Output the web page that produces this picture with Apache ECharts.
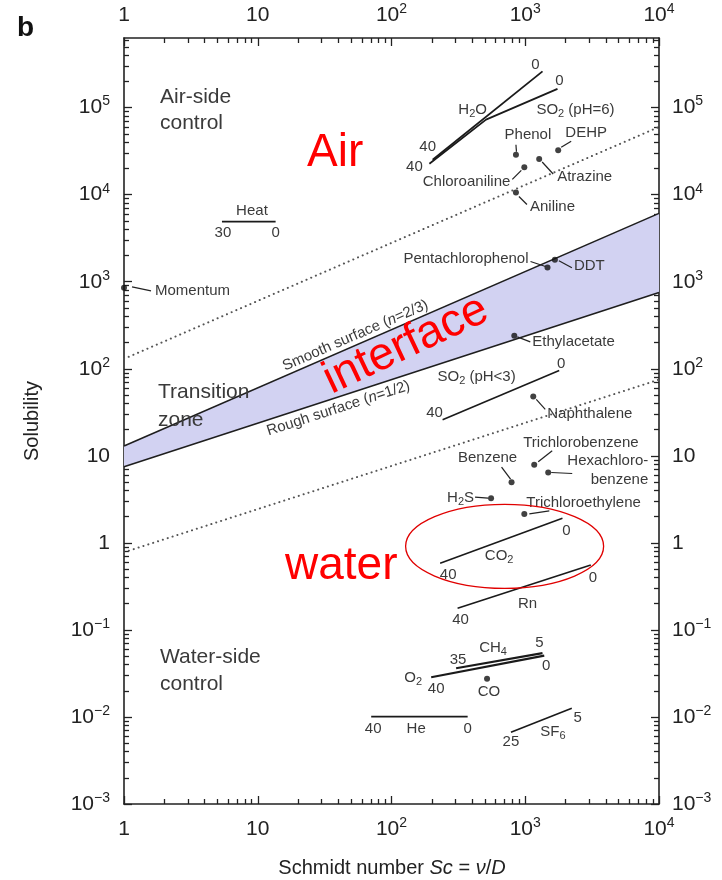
<!DOCTYPE html>
<html><head><meta charset="utf-8">
<script src="https://cdn.jsdelivr.net/npm/echarts@6/dist/echarts.min.js"></script>
<style>html,body{margin:0;padding:0;background:#fff}#c{width:722px;height:880px}</style>
</head><body><div id="c"></div>
<script>
// ---------------- data ----------------
const xTickValues = [1, 10, 100, 1000, 10000];
const yTickValues = [0.001, 0.01, 0.1, 1, 10, 100, 1000, 10000, 100000];
const yMax = 630957;

// band edges and dotted guide lines (Sc, solubility)
const smoothSc = [1, 10000];
const smoothSol = [13, 6100];
const roughSc = [1, 10000];
const roughSol = [7.5, 750];
const upperDotSc = [1, 10000];
const upperDotSol = [130, 60000];
const lowerDotSc = [1, 10000];
const lowerDotSol = [0.78, 75];

// temperature lines
const lineNames = ['Heat', 'H2O', 'SO2 (pH=6)', 'SO2 (pH<3)', 'CO2', 'Rn', 'O2', 'CH4', 'He', 'SF6'];
const lineSc = [[5.4, 13.6], [203, 1346], [192, 509, 1742], [241, 1794], [231, 1897], [312, 3091], [198, 1387], [304, 1346], [70.5, 371], [782, 2228]];
const lineSol = [[4900, 4900], [25200, 261000], [22700, 72800, 164000], [25.9, 95.5], [0.585, 1.92], [0.177, 0.558], [0.0286, 0.0507], [0.0363, 0.054], [0.0101, 0.0101], [0.00667, 0.0126]];
const lineWidths = [1.6, 1.8, 1.8, 1.6, 1.6, 1.6, 2.2, 2.2, 1.6, 1.6];

// compounds (dots)
const compoundNames = ['Momentum', 'Phenol', 'DEHP', 'Chloroaniline', 'Atrazine', 'Aniline', 'Pentachlorophenol', 'DDT', 'Ethylacetate', 'Naphthalene', 'Trichlorobenzene', 'Hexachlorobenzene', 'Benzene', 'H2S', 'Trichloroethylene', 'CO'];
const compoundSc = [1, 852, 1763, 984, 1271, 852, 1467, 1666, 828, 1148, 1167, 1485, 790, 555, 984, 518];
const compoundSol = [850, 28800, 32300, 20600, 25700, 10600, 1459, 1790, 239, 48.1, 7.88, 6.43, 4.98, 3.26, 2.15, 0.0274];

// ---------------- layout (label offsets in px) ----------------
const compoundLabels = [
  {t: 'Momentum', dx: 31, dy: 3, al: 'left', ld: [8, -1, 27, 3]},
  {t: 'Phenol', dx: 12, dy: -20, al: 'center', ld: [0, -10, 0.5, -3]},
  {t: 'DEHP', dx: 28, dy: -17, al: 'center', ld: [3, -3, 13, -9]},
  {t: 'Chloroaniline', dx: -14, dy: 14, al: 'right', ld: [-3, 3, -12, 12]},
  {t: 'Atrazine', dx: 18, dy: 18, al: 'left', ld: [3, 3, 14, 15]},
  {t: 'Aniline', dx: 14, dy: 14, al: 'left', ld: [3, 4, 11, 12]},
  {t: 'Pentachlorophenol', dx: -19, dy: -9, al: 'right', ld: [-17, -6, -2, -1]},
  {t: 'DDT', dx: 19, dy: 6, al: 'left', ld: [4, 1, 17, 8]},
  {t: 'Ethylacetate', dx: 18, dy: 6, al: 'left', ld: [3, 1, 16, 6]},
  {t: 'Naphthalene', dx: 14, dy: 17, al: 'left', ld: [3, 3, 12, 13]},
  {t: 'Trichlorobenzene', dx: -11, dy: -22, al: 'left', ld: [4, -3, 18, -14]},
  {t: 'Hexachloro-\nbenzene', dx: 100, dy: -2, al: 'right', ld: [3, 0, 24, 1]},
  {t: 'Benzene', dx: -24, dy: -24, al: 'center', ld: [-10, -15, -1, -3]},
  {t: 'H{s|2}S', dx: -17, dy: 0, al: 'right', ld: [-16, -1, -3, 0]},
  {t: 'Trichloroethylene', dx: 2, dy: -11, al: 'left', ld: [5, 0, 25, -3]},
  {t: 'CO', dx: 2, dy: 13, al: 'center', ld: null}
];
const lineLabels = [
  [{t: 'Heat', e: 0, dx: 30, dy: -11}, {t: '30', e: 0, dx: 1, dy: 11}, {t: '0', e: 1, dx: 0, dy: 11}],
  [{t: '40', e: 0, dx: -5, dy: -13}, {t: '0', e: 1, dx: -7, dy: -7}, {t: 'H{s|2}O', e: 0, dx: 40, dy: -50}],
  [{t: '40', e: 0, dx: -15, dy: 3}, {t: '0', e: 1, dx: 2, dy: -8}, {t: 'SO{s|2} (pH=6)', e: 1, dx: 18, dy: 21}],
  [{t: '40', e: 0, dx: -8, dy: -7}, {t: '0', e: 1, dx: 2, dy: -7}, {t: 'SO{s|2} (pH<3)', e: 0, dx: 34, dy: -43}],
  [{t: '40', e: 0, dx: 8, dy: 12}, {t: '0', e: 1, dx: 4, dy: 13}, {t: 'CO{s|2}', e: 0, dx: 59, dy: -7}],
  [{t: '40', e: 0, dx: 3, dy: 12}, {t: '0', e: 1, dx: 2, dy: 13}, {t: 'Rn', e: 0, dx: 70, dy: -4}],
  [{t: 'O{s|2}', e: 0, dx: -18, dy: 1}, {t: '40', e: 0, dx: 5, dy: 12}, {t: '0', e: 1, dx: 2, dy: 10}],
  [{t: '35', e: 0, dx: 2, dy: -8}, {t: 'CH{s|4}', e: 0, dx: 37, dy: -20}, {t: '5', e: 1, dx: -3, dy: -10}],
  [{t: '40', e: 0, dx: 2, dy: 12}, {t: 'He', e: 0, dx: 45, dy: 12}, {t: '0', e: 1, dx: 0, dy: 12}],
  [{t: '25', e: 0, dx: 0, dy: 10}, {t: 'SF{s|6}', e: 0, dx: 42, dy: 0}, {t: '5', e: 1, dx: 6, dy: 10}]
];
const ellipseCenter = [701, 0.912];

// ---------------- chart ----------------
const FONT = "'Liberation Sans', Arial, Helvetica, sans-serif";
const chart = echarts.init(document.getElementById('c'), null, {renderer: 'canvas', width: 722, height: 880});

const xMinor = [], yMinor = [];
for (let e = 0; e < 4; e++) for (let m = 2; m <= 9; m++) xMinor.push(m * Math.pow(10, e));
for (let e = -3; e <= 5; e++) for (let m = 2; m <= 9; m++) { const v = m * Math.pow(10, e); if (v < yMax) yMinor.push(v); }

function powLabel(v) {
  const k = Math.round(Math.log10(v));
  if (k === 0) return '1';
  if (k === 1) return '10';
  return '10{sup|' + (k < 0 ? '\u2212' + (-k) : k) + '}';
}
const axisRich = {sup: {fontSize: 14, fontFamily: FONT, color: '#222', verticalAlign: 'top', lineHeight: 26}};

function mkAxis(dim, pos, major) {
  const isX = dim === 'x';
  const ticks = isX ? xTickValues : yTickValues;
  return {
    type: 'log', logBase: 10, gridIndex: 0, position: pos,
    min: isX ? 1 : 0.001, max: isX ? 10000 : yMax,
    axisLine: {show: major, onZero: false, lineStyle: {color: '#222', width: 1.6}},
    axisTick: {show: true, inside: true, length: major ? 8 : 5, customValues: major ? ticks : (isX ? xMinor : yMinor),
      lineStyle: {color: '#222', width: 1.3}},
    axisLabel: {show: major, customValues: ticks, formatter: powLabel, showMinLabel: true, showMaxLabel: true,
      fontSize: 21, fontFamily: FONT, color: '#222', lineHeight: 26, rich: axisRich,
      margin: pos === 'top' ? 10 : pos === 'bottom' ? 12 : pos === 'left' ? 14 : 13},
    splitLine: {show: false}, minorTick: {show: false}, minorSplitLine: {show: false}
  };
}

const pairs = (xs, ys) => xs.map((x, i) => [x, ys[i]]);
const series = [];
series.push({type: 'line', name: 'Smooth surface', data: pairs(smoothSc, smoothSol), symbol: 'none', z: 4,
  lineStyle: {color: '#1e1e1e', width: 1.6}, silent: true});
series.push({type: 'line', name: 'Rough surface', data: pairs(roughSc, roughSol), symbol: 'none', z: 4,
  lineStyle: {color: '#1e1e1e', width: 1.6}, silent: true});
series.push({type: 'custom', name: 'band', z: 1, silent: true, data: [[smoothSc[0], smoothSol[0]]],
  renderItem: function (params, api) {
    const pts = pairs(smoothSc, smoothSol).map(p => api.coord(p))
      .concat(pairs(roughSc, roughSol).map(p => api.coord(p)).reverse());
    return {type: 'polygon', shape: {points: pts}, style: {fill: '#d2d2f2'}};
  }});
const dotStyle = {color: '#555', width: 2, type: [0.1, 5], cap: 'round'};
series.push({type: 'line', data: pairs(upperDotSc, upperDotSol), symbol: 'none', silent: true, lineStyle: dotStyle});
series.push({type: 'line', data: pairs(lowerDotSc, lowerDotSol), symbol: 'none', silent: true, lineStyle: dotStyle});
lineNames.forEach((n, i) => {
  series.push({type: 'line', name: n, data: pairs(lineSc[i], lineSol[i]), symbol: 'none', silent: true, z: 5,
    lineStyle: {color: '#1a1a1a', width: lineWidths[i]}});
});
series.push({type: 'scatter', name: 'compounds', data: pairs(compoundSc, compoundSol), symbol: 'circle', symbolSize: 6,
  itemStyle: {color: '#111'}, silent: true, z: 6, clip: false});

chart.setOption({
  animation: false,
  backgroundColor: '#fff',
  textStyle: {fontFamily: FONT},
  grid: {left: 124, right: 63, top: 38, bottom: 76, containLabel: false, outerBoundsMode: 'none'},
  xAxis: [mkAxis('x', 'bottom', true), mkAxis('x', 'top', true), mkAxis('x', 'bottom', false), mkAxis('x', 'top', false)],
  yAxis: [mkAxis('y', 'left', true), mkAxis('y', 'right', true), mkAxis('y', 'left', false), mkAxis('y', 'right', false)],
  series: series
});

// ---------------- annotations ----------------
const P = (x, y) => chart.convertToPixel({seriesIndex: 0}, [x, y]);
const els = [];
function RICH(size, color) {
  return {
    s: {fontSize: Math.round(size * 0.7), fontFamily: FONT, fill: color, verticalAlign: 'bottom'},
    i: {fontSize: size, fontFamily: FONT, fill: color, fontStyle: 'italic'}
  };
}
function text(x, y, t, o) {
  o = o || {};
  const size = o.size || 15, color = o.color || '#3a3a3a';
  els.push({type: 'text', x: x, y: y, rotation: o.rot || 0, z: 100, silent: true,
    style: {text: t, fontSize: size, fontFamily: FONT, fontWeight: o.weight || 'normal', fill: color,
      align: o.align || 'center', verticalAlign: o.va || 'middle', lineHeight: o.lh || Math.round(size * 1.25),
      rich: RICH(size, color)}});
}
function seg(x1, y1, x2, y2, o) {
  o = o || {};
  els.push({type: 'line', z: 100, silent: true, shape: {x1: x1, y1: y1, x2: x2, y2: y2},
    style: {stroke: o.color || '#222', lineWidth: o.w || 1.2}});
}

compoundLabels.forEach((L, i) => {
  const p = P(compoundSc[i], compoundSol[i]);
  text(p[0] + L.dx, p[1] + L.dy, L.t, {align: L.al});
  if (L.ld) seg(p[0] + L.ld[0], p[1] + L.ld[1], p[0] + L.ld[2], p[1] + L.ld[3]);
});
lineLabels.forEach((arr, i) => {
  arr.forEach(L => {
    const j = L.e === 0 ? 0 : lineSc[i].length - 1;
    const p = P(lineSc[i][j], lineSol[i][j]);
    text(p[0] + L.dx, p[1] + L.dy, L.t);
  });
});

// band labels, rotated along their lines
function alongLine(xs, ys, px, off, t) {
  const a = P(xs[0], ys[0]), b = P(xs[1], ys[1]);
  const ang = Math.atan2(a[1] - b[1], b[0] - a[0]);
  const tt = (px - a[0]) / (b[0] - a[0]);
  const cx = a[0] + tt * (b[0] - a[0]), cy = a[1] + tt * (b[1] - a[1]);
  text(cx - Math.sin(ang) * off, cy - Math.cos(ang) * off, t, {rot: ang, size: 15});
}
alongLine(smoothSc, smoothSol, 359, 9, 'Smooth surface ({i|n}=2/3)');
alongLine(roughSc, roughSol, 335, -11, 'Rough surface ({i|n}=1/2)');

// region texts
text(160, 84, 'Air-side\ncontrol', {size: 21, align: 'left', va: 'top', lh: 26, color: '#3a3a3a'});
text(158, 378, 'Transition\nzone', {size: 21, align: 'left', va: 'top', lh: 28, color: '#3a3a3a'});
text(160, 644, 'Water-side\ncontrol', {size: 21, align: 'left', va: 'top', lh: 27, color: '#3a3a3a'});

// red overlay annotations
text(307, 153, 'Air', {size: 46, align: 'left', color: '#ff0000'});
text(406, 345, 'interface', {size: 46, rot: 0.44, color: '#ff0000'});
text(285, 566, 'water', {size: 46, align: 'left', color: '#ff0000'});
const ec = P(ellipseCenter[0], ellipseCenter[1]);
els.push({type: 'ellipse', z: 101, silent: true, shape: {cx: ec[0], cy: ec[1], rx: 99, ry: 42},
  style: {fill: 'none', stroke: '#e00000', lineWidth: 1.3}});

// titles
text(32, 421, 'Solubility', {size: 20, rot: Math.PI / 2, color: '#222'});
text(392, 868, 'Schmidt number {i|Sc} = {i|\u03bd}/{i|D}', {size: 20, color: '#222'});
text(17, 28, 'b', {size: 28, weight: 'bold', align: 'left', color: '#111'});

chart.setOption({graphic: {elements: els}});
</script>
</body></html>
